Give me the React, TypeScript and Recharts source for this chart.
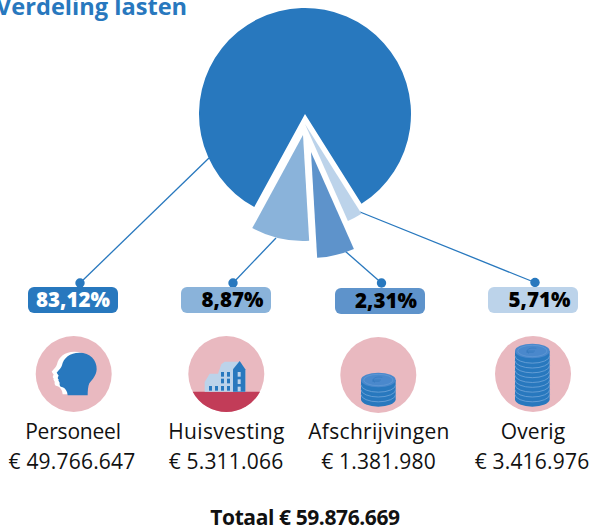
import React from 'react';
import { PieChart, Pie, Sector } from 'recharts';

const BLUE = '#2878be';
const BODY_FONT = '"Open Sans", sans-serif';

// wedge sizes as drawn in the picture (the two small ones really are swapped against their labels)
const sliceNames = ['Personeel', 'Huisvesting', 'Afschrijvingen', 'Overig'];
const sliceValues = [83.12, 8.87, 5.71, 2.31];
const sliceColors = [BLUE, '#8ab3da', '#5e93cb', '#bcd3ea'];
const sliceShift = [[0, 0], [-2, 21], [6, 38], [0, 10]];

const labels = ['Personeel', 'Huisvesting', 'Afschrijvingen', 'Overig'];
const amounts = ['€ 49.766.647', '€ 5.311.066', '€ 1.381.980', '€ 3.416.976'];
const percents = ['83,12%', '8,87%', '2,31%', '5,71%'];
const pillColors = [BLUE, '#8ab3da', '#5e93cb', '#bcd3ea'];
const pillTextColors = ['#ffffff', '#000000', '#000000', '#000000'];
const pillX = [28, 181, 335, 488];
const pillY = [287, 287, 288, 287];
const percentX = [73, 232.5, 386, 539.5];
const iconCx = [73.7, 226.3, 378.3, 533];
const iconCy = [374, 374, 375, 374];
const iconLeft = [36, 188, 340, 494];
const labelCx = [73, 226.5, 379, 533];
const labelSpacing = [-0.2, 0.3, 0.3, 0.1];
const amountCx = [72, 226, 378.5, 532];

const lineFrom = [[209, 158], [276, 238], [345, 251], [360, 212]];
const lineTo = [[80, 283], [233, 283], [381.5, 283], [535, 282.5]];

const pieData = sliceNames.map((name, i) => ({ name, value: sliceValues[i], fill: sliceColors[i] }));

function ShiftedSlice(props: any) {
  const [dx, dy] = sliceShift[sliceNames.indexOf(props.name)] ?? [0, 0];
  return <Sector {...props} cx={props.cx + dx} cy={props.cy + dy} stroke="none" />;
}

const headPath =
  'M95,178 C94,165 88,156 78,153 C72,152 70,148 71,140 C69,136 66,134 68,130 C64,128 65,122 68,119 L62,110 C70,100 76,96 78,88 C82,66 102,50 130,50 C162,50 183,72 182,100 C181,118 170,130 160,142 C156,150 155,165 155,178 Z';

function Coins({ lines }: { lines: number }) {
  const cx = 115;
  const rx = 52;
  const ry = 22;
  const bottom = 190;
  const step = 14.5;
  const top = bottom - lines * step;
  const seps = Array.from({ length: lines }, (_, i) => bottom - i * step);
  return (
    <g>
      <path
        d={`M${cx - rx},${top} V${bottom} A${rx},${ry} 0 0 0 ${cx + rx},${bottom} V${top} Z`}
        fill={BLUE}
      />
      {seps.slice(1).map(y => (
        <path
          key={y}
          d={`M${cx - rx},${y} A${rx},${ry} 0 0 0 ${cx + rx},${y}`}
          fill="none"
          stroke="#6fa3d9"
          strokeWidth={2.5}
        />
      ))}
      <ellipse cx={cx} cy={top} rx={rx} ry={ry} fill="#4a88cc" />
      <ellipse cx={cx} cy={top} rx={rx - 8} ry={ry - 5} fill="none" stroke="#6fa3d9" strokeWidth={1.5} />
      <path
        d={`M${cx + 12},${top - 8} C${cx - 12},${top - 12} ${cx - 22},${top - 2} ${cx - 10},${top + 8} M${cx - 18},${top} H${cx + 8} M${cx - 18},${top + 4} H${cx + 4}`}
        fill="none"
        stroke="#2f74b8"
        strokeWidth={1.5}
      />
    </g>
  );
}

function Icon({ index }: { index: number }) {
  let art: React.ReactNode = null;
  if (index === 0) {
    art = (
      <g>
        <path d={headPath} fill="#ffffff" transform="translate(-15,-3)" />
        <path d={headPath} fill={BLUE} />
      </g>
    );
  } else if (index === 1) {
    art = (
      <g>
        <path d="M14,167 A114,114 0 0 0 216,167 Z" fill="#c23c58" />
        <path d="M50,167 V138 L65,113 H90 L100,85 L110,77 H155 L172,100 V167 Z" fill="#bcd3ea" />
        <path d="M135,167 V100 L155,75 L172,100 V167 Z" fill={BLUE} />
        {[108, 130, 152].map(wy => (
          <rect key={wy} x={149} y={wy} width={9} height={14} fill="#bcd3ea" />
        ))}
        {[[99, 108], [117, 108], [99, 128], [117, 128], [99, 150], [117, 150], [63, 150], [81, 150]].map(([wx, wy]) => (
          <rect key={`${wx}-${wy}`} x={wx} y={wy} width={9} height={14} fill={BLUE} />
        ))}
      </g>
    );
  } else {
    art = <Coins lines={index === 2 ? 4 : 10} />;
  }
  return (
    <g>
      <circle cx={iconCx[index]} cy={iconCy[index]} r={38} fill="#e9b9c0" />
      <g transform={`translate(${iconLeft[index]},336) scale(${1 / 3})`}>{art}</g>
    </g>
  );
}

export default function App() {
  return (
    <div style={{ position: 'absolute', left: 0, top: 0, width: 592, height: 532, background: '#ffffff' }}>
      <PieChart width={592} height={532} margin={{ top: 0, right: 0, bottom: 0, left: 0 }}>
        {lineFrom.map(([x1, y1], i) => (
          <g key={i}>
            <line x1={x1} y1={y1} x2={lineTo[i][0]} y2={lineTo[i][1]} stroke={BLUE} strokeWidth={1.3} />
            <circle cx={lineTo[i][0]} cy={lineTo[i][1]} r={4.7} fill={BLUE} />
          </g>
        ))}
        <Pie
          data={pieData}
          dataKey="value"
          nameKey="name"
          cx={305}
          cy={114}
          outerRadius={106}
          startAngle={302.2}
          endAngle={662.2}
          stroke="none"
          shape={ShiftedSlice}
          isAnimationActive={false}
        />
        <text x={-4} y={15} fontFamily={BODY_FONT} fontWeight={700} fontSize={23.6} fill={BLUE}>
          Verdeling lasten
        </text>
        {percents.map((p, i) => (
          <g key={p}>
            <rect x={pillX[i]} y={pillY[i]} width={90} height={26} rx={6} fill={pillColors[i]} />
            <text
              x={percentX[i]}
              y={pillY[i] + 19.5}
              textAnchor="middle"
              fontFamily={BODY_FONT}
              fontWeight={800}
              fontSize={20.5}
              fill={pillTextColors[i]}
            >
              {p}
            </text>
          </g>
        ))}
        {labels.map((_, i) => (
          <Icon key={i} index={i} />
        ))}
        {labels.map((label, i) => (
          <g key={label}>
            <text
              x={labelCx[i]}
              y={439}
              textAnchor="middle"
              fontFamily={BODY_FONT}
              fontSize={21}
              letterSpacing={labelSpacing[i]}
              fill="#111111"
            >
              {label}
            </text>
            <text x={amountCx[i]} y={469} textAnchor="middle" fontFamily={BODY_FONT} fontSize={21} letterSpacing={0.2} fill="#111111">
              {amounts[i]}
            </text>
          </g>
        ))}
        <text
          x={305}
          y={525}
          textAnchor="middle"
          fontFamily={BODY_FONT}
          fontWeight={700}
          fontSize={21}
          letterSpacing={-0.4}
          fill="#111111"
        >
          Totaal € 59.876.669
        </text>
      </PieChart>
    </div>
  );
}
